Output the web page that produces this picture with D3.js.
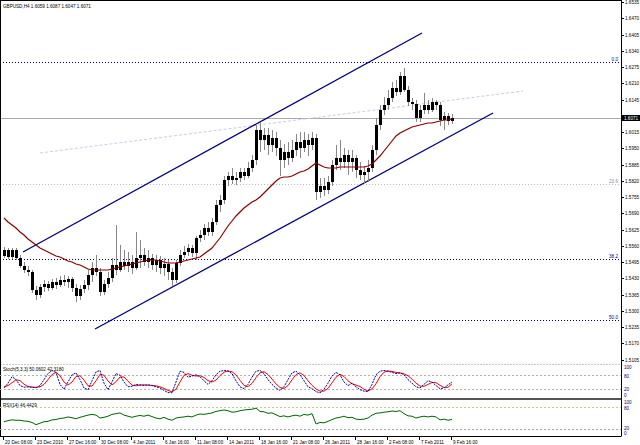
<!DOCTYPE html>
<html><head><meta charset="utf-8">
<script src="https://cdn.jsdelivr.net/npm/d3@7/dist/d3.min.js"></script>
<style>body{margin:0;background:#fff;}svg{display:block;}text{font-family:"Liberation Sans",Arial,sans-serif;}</style>
</head><body><svg id="c" width="640" height="445"></svg>
<script>
const headerText = "GBPUSD,H4 1.6059 1.6087 1.6047 1.6071";
const opens = [1.5519,1.5543,1.5515,1.5543,1.5511,1.5479,1.5463,1.5455,1.5383,1.5363,
1.5395,1.5407,1.5391,1.5415,1.5403,1.5423,1.5415,1.5427,1.5391,1.5359,
1.5387,1.5403,1.5443,1.5471,1.5455,1.5375,1.5407,1.5431,1.5483,1.5463,
1.5495,1.5479,1.5495,1.5471,1.5511,1.5523,1.5495,1.5511,1.5483,1.5503,
1.5471,1.5487,1.5455,1.5423,1.5491,1.5523,1.5535,1.5551,1.5531,1.5591,
1.5603,1.5631,1.5615,1.5655,1.5723,1.5743,1.5823,1.5839,1.5823,1.5831,
1.5855,1.5839,1.5871,1.5903,1.6023,1.5983,1.6003,1.5963,1.5991,1.5951,
1.5903,1.5935,1.5911,1.5943,1.5975,1.5951,1.5983,1.5963,1.5991,1.5775,
1.5799,1.5783,1.5815,1.5883,1.5911,1.5895,1.5923,1.5895,1.5911,1.5863,
1.5843,1.5855,1.5871,1.5943,1.6043,1.6103,1.6123,1.6151,1.6191,1.6175,
1.6239,1.6183,1.6135,1.6127,1.6071,1.6103,1.6123,1.6103,1.6135,1.6123,
1.6063,1.6079,1.6059];
const highs = [1.5555,1.5551,1.5551,1.5551,1.5523,1.5495,1.5479,1.5463,1.5399,1.5407,
1.5423,1.5419,1.5427,1.5431,1.5439,1.5443,1.5439,1.5435,1.5407,1.5403,
1.5423,1.5463,1.5495,1.5523,1.5471,1.5423,1.5455,1.5511,1.5643,1.5563,
1.5543,1.5535,1.5523,1.5615,1.5583,1.5551,1.5543,1.5527,1.5523,1.5519,
1.5511,1.5503,1.5471,1.5503,1.5543,1.5559,1.5567,1.5563,1.5599,1.5623,
1.5647,1.5655,1.5671,1.5743,1.5763,1.5839,1.5855,1.5871,1.5855,1.5871,
1.5871,1.5895,1.5923,1.6047,1.6055,1.6031,1.6031,1.6023,1.6015,1.5983,
1.5967,1.5975,1.5983,1.6007,1.6015,1.6015,1.6007,1.6015,1.6007,1.5831,
1.5831,1.5839,1.5903,1.5963,1.5983,1.5951,1.5943,1.5943,1.5923,1.5895,
1.5879,1.5903,1.5963,1.6071,1.6123,1.6155,1.6183,1.6215,1.6223,1.6255,
1.6271,1.6199,1.6151,1.6143,1.6123,1.6171,1.6143,1.6151,1.6143,1.6135,
1.6095,1.6091,1.6087];
const lows = [1.5511,1.5507,1.5507,1.5503,1.5471,1.5451,1.5439,1.5371,1.5343,1.5351,
1.5375,1.5379,1.5383,1.5387,1.5395,1.5399,1.5391,1.5375,1.5335,1.5343,
1.5371,1.5383,1.5415,1.5439,1.5359,1.5363,1.5391,1.5415,1.5443,1.5455,
1.5463,1.5455,1.5447,1.5463,1.5471,1.5479,1.5471,1.5463,1.5455,1.5447,
1.5439,1.5423,1.5399,1.5411,1.5479,1.5511,1.5519,1.5515,1.5503,1.5575,
1.5583,1.5599,1.5599,1.5643,1.5695,1.5727,1.5799,1.5807,1.5803,1.5815,
1.5823,1.5831,1.5855,1.5883,1.5935,1.5943,1.5923,1.5935,1.5919,1.5839,
1.5871,1.5883,1.5895,1.5919,1.5911,1.5935,1.5919,1.5943,1.5743,1.5751,
1.5759,1.5767,1.5799,1.5863,1.5863,1.5871,1.5843,1.5855,1.5831,1.5823,
1.5811,1.5815,1.5855,1.5923,1.6023,1.6083,1.6103,1.6135,1.6159,1.6163,
1.6175,1.6119,1.6103,1.6055,1.6055,1.6087,1.6087,1.6095,1.6103,1.6039,
1.6023,1.6043,1.6047];
const closes = [1.5543,1.5515,1.5543,1.5511,1.5479,1.5463,1.5455,1.5383,1.5363,1.5395,
1.5407,1.5391,1.5415,1.5403,1.5423,1.5415,1.5427,1.5391,1.5359,1.5387,
1.5403,1.5443,1.5471,1.5455,1.5375,1.5407,1.5431,1.5483,1.5463,1.5495,
1.5479,1.5495,1.5471,1.5511,1.5523,1.5495,1.5511,1.5483,1.5503,1.5471,
1.5487,1.5455,1.5423,1.5491,1.5523,1.5535,1.5551,1.5531,1.5591,1.5603,
1.5631,1.5615,1.5655,1.5723,1.5743,1.5823,1.5839,1.5823,1.5831,1.5855,
1.5839,1.5871,1.5903,1.6023,1.5983,1.6003,1.5963,1.5991,1.5951,1.5903,
1.5935,1.5911,1.5943,1.5975,1.5951,1.5983,1.5963,1.5991,1.5775,1.5799,
1.5783,1.5815,1.5883,1.5911,1.5895,1.5923,1.5895,1.5911,1.5863,1.5843,
1.5855,1.5871,1.5943,1.6043,1.6103,1.6123,1.6151,1.6191,1.6175,1.6239,
1.6183,1.6135,1.6127,1.6071,1.6103,1.6123,1.6103,1.6135,1.6123,1.6063,
1.6079,1.6059,1.6071];
const maValues = [1.5671,1.5655,1.5643,1.5631,1.5615,1.5603,1.5587,1.5575,1.5563,1.5551,
1.5543,1.5535,1.5527,1.5519,1.5515,1.5507,1.5499,1.5495,1.5487,1.5483,
1.5475,1.5467,1.5463,1.5463,1.5463,1.5463,1.5463,1.5467,1.5471,1.5475,
1.5479,1.5483,1.5487,1.5491,1.5495,1.5499,1.5503,1.5503,1.5503,1.5499,
1.5495,1.5491,1.5491,1.5491,1.5495,1.5499,1.5503,1.5507,1.5511,1.5515,
1.5527,1.5539,1.5551,1.5571,1.5591,1.5615,1.5639,1.5659,1.5679,1.5695,
1.5711,1.5723,1.5735,1.5743,1.5755,1.5771,1.5787,1.5803,1.5819,1.5831,
1.5835,1.5835,1.5839,1.5847,1.5855,1.5859,1.5867,1.5879,1.5891,1.5883,
1.5875,1.5871,1.5871,1.5871,1.5875,1.5875,1.5875,1.5875,1.5875,1.5875,
1.5875,1.5879,1.5887,1.5903,1.5919,1.5939,1.5959,1.5979,1.5999,1.6011,
1.6019,1.6027,1.6035,1.6039,1.6043,1.6047,1.6051,1.6051,1.6055,1.6059,
1.6063,1.6063,1.6067];
const stochMain = [25,45,72,60,35,28,30,28,26,35,
60,85,98,90,40,20,50,80,88,60,
25,18,55,92,98,45,18,50,85,78,
50,30,32,40,38,36,38,35,30,25,
15,6,5,50,95,90,70,75,80,72,
55,40,55,80,95,98,96,85,55,30,
22,40,70,95,98,85,60,40,25,15,
30,60,88,95,80,55,30,22,10,5,
20,45,75,90,80,50,35,45,30,18,
12,10,40,80,95,98,95,90,85,88,
80,60,45,30,25,40,55,50,35,22,
25,38,50.0602];
const stochSignal = [30,35,47,59,56,41,31,29,28,30,
40,60,81,91,76,50,37,50,73,76,
58,34,33,55,82,78,54,38,51,71,
71,53,37,34,37,38,37,36,34,30,
23,15,9,20,50,78,85,78,75,76,
69,56,50,58,77,91,96,93,79,57,
36,31,44,68,88,93,81,62,42,27,
23,35,59,81,88,77,55,36,21,12,
12,23,47,70,82,73,55,43,37,31,
20,13,21,43,72,91,96,94,90,88,
84,76,62,45,33,32,40,48,47,36,
27,28,42.3180];
const rsiValues = [40,43,45,44,44,42,41,38,32,36,
40,41,45,46,49,50,53,51,48,52,
55,58,60,58,50,52,55,60,62,64,
58,55,52,55,57,55,58,54,50,48,
52,47,44,50,52,53,55,53,58,61,
60,62,64,68,70,72,70,66,67,70,
72,73,74,77,68,67,63,64,59,54,
56,53,56,58,55,60,58,62,34,38,
37,41,46,50,52,55,51,52,47,46,
47,50,58,63,64,66,67,69,68,70,
62,56,55,50,53,55,53,55,53,45,
47,44,46.4429];
const priceTicks = [1.6535,1.6470,1.6405,1.6340,1.6275,1.6210,1.6145,1.6080,1.6015,1.5950,1.5885,1.5820,
1.5755,1.5690,1.5625,1.5560,1.5495,1.5430,1.5365,1.5300,1.5235,1.5170,1.5105];
const timeLabels = ["20 Dec 08:00","23 Dec 2010","27 Dec 16:00","30 Dec 08:00","4 Jan 2011","6 Jan 16:00",
"11 Jan 08:00","14 Jan 2011","18 Jan 16:00","21 Jan 08:00","26 Jan 2011","28 Jan 16:00",
"2 Feb 08:00","7 Feb 2011","9 Feb 16:00"];
const fibLabels = ["0.0","23.6","38.2","50.0"];
const fibPrices = [1.6295,1.5807,1.5507,1.5263];
const upperChannel = [[4.75,1.5535],[104.5,1.6411]];
const lowerChannel = [[22.75,1.5227],[122.25,1.6091]];
const faintTrend = [[9,1.5931],[129.75,1.6179]];
const stochLevels = [80,20];
const rsiLevels = [80,20];
const stochTitle = "Stoch(5,3,3) 50.0602 42.3180";
const rsiTitle = "RSI(14) 46.4429";

const svg = d3.select("#c");
const FS = 4.6;
const axisX = 621;
const n = closes.length;
const x = d3.scaleLinear().domain([0, n - 1]).range([4, 452]);
const y = d3.scaleLinear().domain([1.6543, 1.6543 - 0.0004 * 364]).range([0, 364]);
const yS = d3.scaleLinear().domain([0, 100]).range([394, 370]);
const yR = d3.scaleLinear().domain([0, 100]).range([436.4, 399.7]);

svg.append("defs").append("clipPath").attr("id","mainclip").append("rect")
  .attr("x",0).attr("y",0).attr("width",axisX).attr("height",364);
const main = svg.append("g").attr("clip-path","url(#mainclip)");

// fib levels
fibPrices.forEach((p,k)=>{
  main.append("line").attr("x1",0).attr("x2",axisX).attr("y1",Math.round(y(p))+0.5).attr("y2",Math.round(y(p))+0.5)
    .attr("stroke", k===1 ? "#b8b8cc" : "#000080").attr("stroke-width",1).attr("stroke-dasharray","1,2");
  svg.append("text").attr("x",axisX-3).attr("y",Math.round(y(p))-1).attr("text-anchor","end")
    .attr("font-size",FS).attr("fill", k===1 ? "#8888aa" : "#000080").text(fibLabels[k]);
});
// current price line
main.append("line").attr("x1",0).attr("x2",axisX).attr("y1",Math.round(y(closes[n-1]))+0.5).attr("y2",Math.round(y(closes[n-1]))+0.5)
  .attr("stroke","#a8a8a8").attr("stroke-width",1);
// faint trend
const lineP = d3.line().x(d=>x(d[0])).y(d=>y(d[1]));
main.append("path").attr("d",lineP(faintTrend)).attr("fill","none").attr("stroke","#d0c8ee").attr("stroke-width",1).attr("stroke-dasharray","3,2");
// channels
[upperChannel, lowerChannel].forEach(c=>{
  main.append("path").attr("d",lineP(c)).attr("fill","none").attr("stroke","#000080").attr("stroke-width",1.3);
});
// candles
const cg = main.append("g");
closes.forEach((c,i)=>{
  const cx = Math.round(x(i));
  cg.append("line").attr("x1",cx+0.5).attr("x2",cx+0.5).attr("y1",y(highs[i])).attr("y2",y(lows[i]))
    .attr("stroke","#888").attr("stroke-width",1);
  const top = y(Math.max(opens[i],c)), bot = y(Math.min(opens[i],c));
  cg.append("rect").attr("x",cx-1).attr("width",3).attr("y",top).attr("height",Math.max(1,bot-top))
    .attr("fill","#000");
});
// MA
main.append("path").attr("d",d3.line().x((d,i)=>x(i)).y(d=>y(d))(maValues))
  .attr("fill","none").attr("stroke","#8b0000").attr("stroke-width",1.2);

// header
svg.append("text").attr("x",3).attr("y",8).attr("font-size",FS).attr("fill","#000").text(headerText);

// panel separators & frame
svg.append("line").attr("x1",0).attr("x2",axisX).attr("y1",364.5).attr("y2",364.5).attr("stroke","#c8c8c8").attr("stroke-dasharray","2,1");
svg.append("line").attr("x1",0).attr("x2",axisX).attr("y1",399).attr("y2",399).attr("stroke","#555").attr("stroke-width",2);
svg.append("line").attr("x1",0).attr("x2",axisX).attr("y1",436.5).attr("y2",436.5).attr("stroke","#000");
svg.append("line").attr("x1",0).attr("x2",axisX+0.5).attr("y1",0.5).attr("y2",0.5).attr("stroke","#000");
svg.append("line").attr("x1",0.5).attr("x2",0.5).attr("y1",0).attr("y2",436.5).attr("stroke","#000");
svg.append("line").attr("x1",axisX+0.5).attr("x2",axisX+0.5).attr("y1",0).attr("y2",436.5).attr("stroke","#000");

// price axis (tick label hidden behind the current-price tag is skipped, as in the reference)
const cp = Math.round(y(closes[n-1]));
priceTicks.forEach(p=>{
  const py = Math.round(y(p));
  svg.append("line").attr("x1",axisX).attr("x2",axisX+3).attr("y1",py+0.5).attr("y2",py+0.5).attr("stroke","#000");
  if (Math.abs(py - cp) < 6) return;
  svg.append("text").attr("x",axisX+4).attr("y",py).attr("dy","0.35em").attr("font-size",FS).attr("fill","#000").text(p.toFixed(4));
});
// current price tag
svg.append("rect").attr("x",axisX+1).attr("y",cp-3).attr("width",19).attr("height",6).attr("fill","#000");
svg.append("text").attr("x",axisX+3).attr("y",cp).attr("dy","0.35em").attr("font-size",FS).attr("fill","#fff").text(closes[n-1].toFixed(4));

// stochastic
stochLevels.forEach(v=>{
  svg.append("line").attr("x1",0).attr("x2",axisX).attr("y1",Math.round(yS(v))+0.5).attr("y2",Math.round(yS(v))+0.5)
    .attr("stroke","#b0b0b0").attr("stroke-dasharray","2,2");
});
const lS = d3.line().x((d,i)=>x(i)).y(d=>yS(d));
svg.append("path").attr("d",lS(stochSignal)).attr("fill","none").attr("stroke","#ff0000").attr("stroke-width",1);
svg.append("path").attr("d",lS(stochMain)).attr("fill","none").attr("stroke","#0000aa").attr("stroke-width",1).attr("stroke-dasharray","2,1");
svg.append("text").attr("x",3).attr("y",371).attr("font-size",FS).attr("fill","#000").text(stochTitle);
[[100,-2.2],[80,1.2],[20,0],[0,1]].forEach(([v,d])=>{
  svg.append("text").attr("x",axisX+3).attr("y",yS(v)+d).attr("dy","0.35em").attr("font-size",FS).attr("fill","#000080").text(v);
});

// RSI
rsiLevels.forEach((v,k)=>{
  svg.append("line").attr("x1",0).attr("x2",axisX).attr("y1",Math.round(yR(v))+0.5).attr("y2",Math.round(yR(v))+0.5)
    .attr("stroke", k===0 ? "#c8c890" : "#a8a8a8").attr("stroke-dasharray","2,2");
});
svg.append("path").attr("d",d3.line().x((d,i)=>x(i)).y(d=>yR(d))(rsiValues)).attr("fill","none").attr("stroke","#006400").attr("stroke-width",1);
svg.append("text").attr("x",3).attr("y",406.5).attr("font-size",FS).attr("fill","#000").text(rsiTitle);
[[100,2.5],[80,1.5],[20,-1],[0,-3]].forEach(([v,d])=>{
  svg.append("text").attr("x",axisX+3).attr("y",yR(v)+d).attr("dy","0.35em").attr("font-size",FS).attr("fill","#000080").text(v);
});

// time axis
timeLabels.forEach((t,k)=>{
  const tx = Math.round(x(k*8)) - 1;
  svg.append("line").attr("x1",tx+0.5).attr("x2",tx+0.5).attr("y1",436).attr("y2",440).attr("stroke","#000");
  svg.append("text").attr("x",tx+2).attr("y",443.5).attr("font-size",FS).attr("fill","#000").text(t);
});
</script></body></html>
